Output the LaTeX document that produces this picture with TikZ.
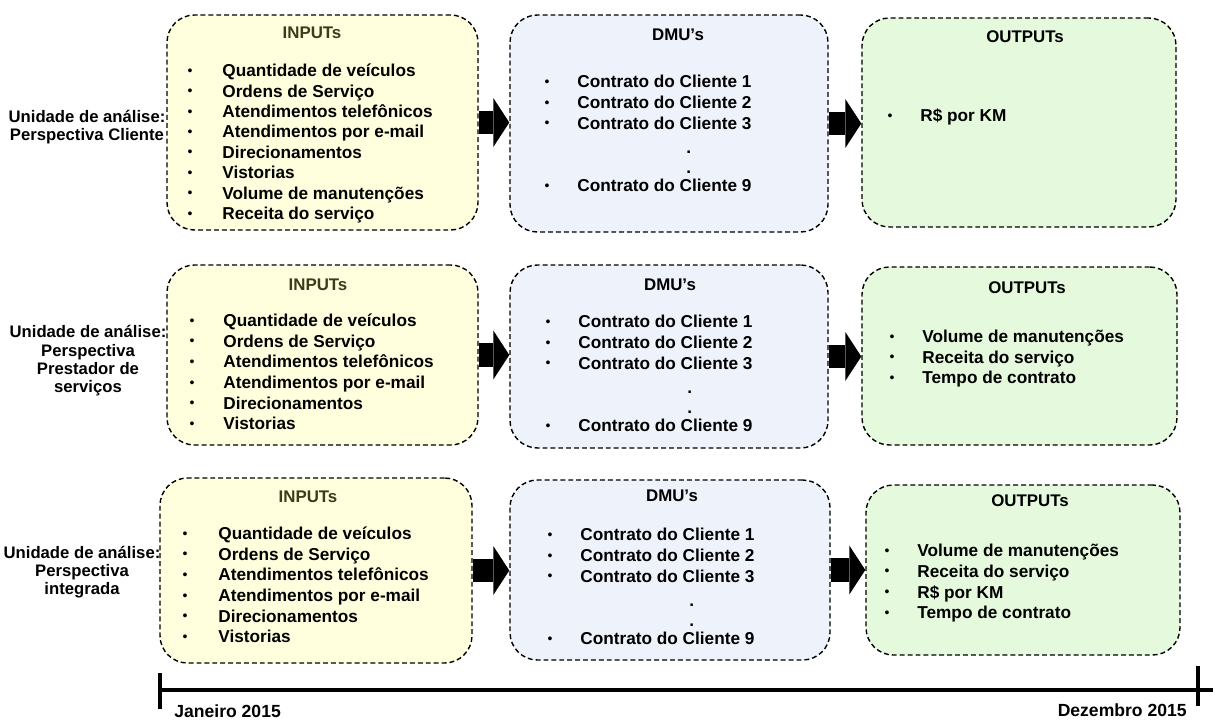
\documentclass[tikz,border=0pt]{standalone}
\usepackage{fontspec}
\setmainfont{Liberation Sans}
\usetikzlibrary{arrows.meta, positioning, calc}
\definecolor{inputyellow}{RGB}{255,255,221}
\definecolor{dmublue}{RGB}{238,242,251}
\definecolor{outputgreen}{RGB}{229,249,220}
\definecolor{inputhead}{RGB}{60,60,26}

\begin{document}
\begin{tikzpicture}[
    x=0.02cm, y=-0.02cm,
    box/.style={draw, dash pattern=on 2.8pt off 1.7pt, line width=0.8pt, rounded corners=0.55cm, inner sep=0pt},
    inbox/.style={box, fill=inputyellow},
    dmubox/.style={box, fill=dmublue},
    outbox/.style={box, fill=outputgreen},
    head/.style={font=\fontsize{9.6}{11}\selectfont\bfseries, inner sep=0pt},
    item/.style={font=\fontsize{9.8}{11}\selectfont\bfseries, anchor=mid west, inner sep=0pt},
    bull/.style={font=\fontsize{8}{9}\selectfont, inner sep=0pt},
    lbl/.style={font=\fontsize{9.5}{10.4}\selectfont\bfseries, align=center},
    bigarrow/.style={line width=0.47cm, -{Triangle[length=0.32cm, width=0.98cm, line width=0pt]}},
    timeline/.style={line width=2.2pt}
]
    \useasboundingbox (0,0) rectangle (1213,720);

    % Boxes (row 1: Cliente)
    \node[inbox, minimum width=311*0.02cm, minimum height=215*0.02cm] (in1) at (322.5,122.5) {};
    \node[dmubox, minimum width=318*0.02cm, minimum height=217*0.02cm] (dmu1) at (669,123.5) {};
    \node[outbox, minimum width=314*0.02cm, minimum height=209*0.02cm] (out1) at (1019,122.5) {};

    % Boxes (row 2: Prestador de servicos)
    \node[inbox, minimum width=311*0.02cm, minimum height=180*0.02cm] (in2) at (322.5,355) {};
    \node[dmubox, minimum width=318*0.02cm, minimum height=183*0.02cm] (dmu2) at (669,356.5) {};
    \node[outbox, minimum width=315*0.02cm, minimum height=178*0.02cm] (out2) at (1019.5,356) {};

    % Boxes (row 3: integrada)
    \node[inbox, minimum width=312*0.02cm, minimum height=185*0.02cm] (in3) at (316,570.5) {};
    \node[dmubox, minimum width=320*0.02cm, minimum height=180*0.02cm] (dmu3) at (670,570) {};
    \node[outbox, minimum width=314*0.02cm, minimum height=170*0.02cm] (out3) at (1023,570) {};

    % Block arrows
    \draw[bigarrow] (in1.east) -- (in1.east -| dmu1.west);
    \draw[bigarrow] (dmu1.east) -- (dmu1.east -| out1.west);
    \draw[bigarrow] (in2.east) -- (in2.east -| dmu2.west);
    \draw[bigarrow] (dmu2.east) -- (dmu2.east -| out2.west);
    \draw[bigarrow] (in3.east) -- (in3.east -| dmu3.west);
    \draw[bigarrow] (dmu3.east) -- (dmu3.east -| out3.west);

    % Left labels
    \node[lbl] (lab1) at (87,127) {Unidade de análise:\\Perspectiva Cliente};
    \node[lbl] (lab2) at (88,361) {Unidade de análise:\\Perspectiva\\Prestador de\\serviços};
    \node[lbl] (lab3) at (82,572) {Unidade de análise:\\Perspectiva\\integrada};

    % Headers
    \node[head, text=inputhead] (in1-h) at (312,33) {INPUTs};
    \node[head, text=inputhead] (in2-h) at (318,285) {INPUTs};
    \node[head, text=inputhead] (in3-h) at (308,497) {INPUTs};
    \node[head] (dmu1-h) at (678,35) {DMU's};
    \node[head] (dmu2-h) at (670,285) {DMU's};
    \node[head] (dmu3-h) at (672,496) {DMU's};
    \node[head] (out1-h) at (1025,37) {OUTPUTs};
    \node[head] (out2-h) at (1027,288) {OUTPUTs};
    \node[head] (out3-h) at (1030,501) {OUTPUTs};

    % INPUTs lists
    \foreach \txt [count=\i] in {Quantidade de veículos, Ordens de Serviço, Atendimentos telefônicos,
        Atendimentos por e-mail, Direcionamentos, Vistorias, Volume de manutenções, Receita do serviço} {
        \node[bull] (in1-b\i) at (190,{72+(\i-1)*20.4}) {\textbullet};
        \node[item] (in1-\i) at (222,{72+(\i-1)*20.4}) {\txt};
    }
    \foreach \txt [count=\i] in {Quantidade de veículos, Ordens de Serviço, Atendimentos telefônicos,
        Atendimentos por e-mail, Direcionamentos, Vistorias} {
        \node[bull] (in2-b\i) at (192,{322+(\i-1)*20.6}) {\textbullet};
        \node[item] (in2-\i) at (223,{322+(\i-1)*20.6}) {\txt};
        \node[bull] (in3-b\i) at (185,{535+(\i-1)*20.6}) {\textbullet};
        \node[item] (in3-\i) at (218,{535+(\i-1)*20.6}) {\txt};
    }

    % DMU's lists
    \foreach \r/\bx/\y in {1/547/83, 2/548/323, 3/550/536} {
        \foreach \k in {1,2,3} {
            \node[bull] (dmu\r-b\k) at (\bx,{\y+(\k-1)*20.8}) {\textbullet};
            \node[item] (dmu\r-\k) at (\bx+30,{\y+(\k-1)*20.8}) {Contrato do Cliente \k};
        }
        \node[item] (dmu\r-d1) at (\bx+139,\y+66) {.};
        \node[item] (dmu\r-d2) at (\bx+139,\y+86) {.};
        \node[bull] (dmu\r-b9) at (\bx,\y+104) {\textbullet};
        \node[item] (dmu\r-9) at (\bx+30,\y+104) {Contrato do Cliente 9};
    }

    % OUTPUTs lists
    \node[bull] (out1-b1) at (890,117) {\textbullet};
    \node[item] (out1-1) at (920,117) {R\$ por KM};
    \foreach \txt [count=\i] in {Volume de manutenções, Receita do serviço, Tempo de contrato} {
        \node[bull] (out2-b\i) at (892,{338+(\i-1)*20.5}) {\textbullet};
        \node[item] (out2-\i) at (922,{338+(\i-1)*20.5}) {\txt};
    }
    \foreach \txt [count=\i] in {Volume de manutenções, Receita do serviço, R\$ por KM, Tempo de contrato} {
        \node[bull] (out3-b\i) at (887,{552+(\i-1)*20.7}) {\textbullet};
        \node[item] (out3-\i) at (917,{552+(\i-1)*20.7}) {\txt};
    }

    % Timeline
    \coordinate (t0) at (160,690);
    \coordinate (t1) at (1213,690);
    \draw[timeline] (t0) -- (t1);
    \draw[timeline] (160,673) -- (160,709);
    \draw[timeline] (1198,666) -- (1198,706);
    \node[font=\fontsize{10}{12}\selectfont\bfseries, anchor=mid west, inner sep=0pt] (jan) at (174,713) {Janeiro 2015};
    \node[font=\fontsize{10}{12}\selectfont\bfseries, anchor=mid east, inner sep=0pt] (dez) at (1187,712) {Dezembro 2015};

\end{tikzpicture}
\end{document}
